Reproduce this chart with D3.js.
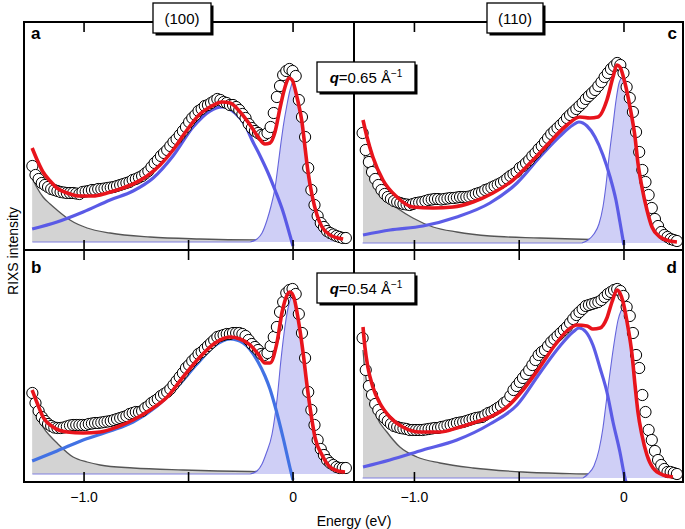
<!DOCTYPE html>
<html>
<head>
<meta charset="utf-8">
<script src="https://cdn.jsdelivr.net/npm/d3@7"></script>
<style>
  html, body { margin: 0; padding: 0; background: #fff; }
  svg { display: block; }
  text { font-family: "Liberation Sans", Arial, Helvetica, sans-serif; }
</style>
</head>
<body>
<script>
// ---------------- DATA ----------------
// Energy loss grid of the measured points (eV)
const energy = [
  -1.245,-1.23,-1.215,-1.2,-1.185,-1.17,-1.155,-1.14,-1.125,-1.11,
  -1.095,-1.08,-1.065,-1.05,-1.035,-1.02,-1.005,-0.99,-0.975,-0.96,
  -0.945,-0.93,-0.915,-0.9,-0.885,-0.87,-0.855,-0.84,-0.825,-0.81,
  -0.795,-0.78,-0.765,-0.75,-0.735,-0.72,-0.705,-0.69,-0.675,-0.66,
  -0.645,-0.63,-0.615,-0.6,-0.585,-0.57,-0.555,-0.54,-0.525,-0.51,
  -0.495,-0.48,-0.465,-0.45,-0.435,-0.42,-0.405,-0.39,-0.375,-0.36,
  -0.345,-0.33,-0.315,-0.3,-0.285,-0.27,-0.255,-0.24,-0.225,-0.21,
  -0.195,-0.18,-0.165,-0.15,-0.135,-0.12,-0.105,-0.09,-0.075,-0.06,
  -0.045,-0.03,-0.015,0,0.015,0.03,0.045,0.06,0.075,0.09,
  0.105,0.12,0.135,0.15,0.165,0.18,0.195,0.21,0.225,0.24,
  0.255
];

// Measured RIXS intensity (arb. units), panels a-d
const intensA = [
  76,67,63,59,57,55,53,52,51,50,
  49.5,49,49,49,48.5,48,50,50.5,51,52,
  52,53,53,53.5,54,54.5,55,56,57,58,
  59,60,62,63,64.5,66,68.5,71,75,79,
  82,86,89,92,96,100,103,107,111,115,
  120,124,127,131,133,136,137,139,141,143,
  142,140,139,137,137,135,132,128,124,118,
  114,111,109,107,107,109,115,129,145,156,
  167,171,173,171,166,142,125,105,74,52,
  37,26,19,15,11,9,7.5,6,5,4,
  4
];
const intensB = [
  81,71,63,57,53,50,48,46.5,46,46,
  46.5,47.5,48.5,49,49,49,49,49,50,50.5,
  51,51,51.5,52,52.5,53,54,55,56,57,
  58,60,61,62,62,63,66,68,71,73,
  75,78,80,82,85,89,93,97,101,106,
  109,113,116,120,122,125,128,131,134,137,
  138,139,140,140,141,141,141,140,138,134,
  130,127,124,120,119,121,128,137,147,162,
  172,181,184,185,180,160,141,116,82,64,
  49,34,25,19,14,11,9,7,6,6,
  6
];
const intensC = [
  110,93,81,71,64,58,53,49,46,44,
  42,41,40,39,38.5,38,39,40,40.5,41,
  42,43,43.5,44,44,43.5,44,44.5,45,45,
  45.5,46,46,46,46.5,47.5,49,50,51,53,
  54,55.5,57,58.5,60,62,64.5,67,69,71,
  75,77,80,83,87,90,94,97,101,105,
  109,112,115,118,121,125,128,131,134,137,
  140,144,147,150,153,157,161,166,170,174,
  177,180,178,170,156,145,131,111,91,73,
  61,48,35,24,17,11,8,6,4,3,
  2
];
const intensD = [
  140,108,92,83,74,68,63,60,57,54,
  52,51,50,49.5,49,48,48,48,48,48,
  48.5,49,49.5,50,50,51,51.5,52.5,53,54,
  55,55.5,56,57,58,59,60,60.5,61,63,
  65,66,68,70,72,75,77,82,88,92,
  96,100,104,108,113,118,123,126,128,132,
  136,139,142,145,148,151,155,159,163,166,
  169,172,173,174,175,176,178,181,184,186,
  188,189,187,182,171,162,145,123,110,83,
  66,48,38,27,18,13,9,6,6,5,
  4
];

// Total fit (red)
const fitEA = [-1.246,-1.222,-1.194,-1.16,-1.127,-1.079,-1.017,-0.955,-0.888,-0.825,-0.763,-0.696,-0.634,-0.572,-0.505,-0.443,-0.395,-0.337,-0.299,-0.251,-0.203,-0.165,-0.132,-0.108,-0.084,-0.06,-0.036,-0.017,-0.002,0.022,0.045,0.06,0.074,0.093,0.117,0.141,0.179,0.242];
const fitIA = [94,82,70,61,54,49,46,46,49,53,58,66,77,92,112,128,135,140,139,130,117,105,98,99,110,134,155,164,162,144,120,94,70,47,27,15,7,3];
const fitEB = [-1.246,-1.222,-1.194,-1.146,-1.079,-1.002,-0.921,-0.84,-0.763,-0.682,-0.6,-0.524,-0.443,-0.371,-0.299,-0.251,-0.203,-0.165,-0.132,-0.108,-0.074,-0.05,-0.026,-0.012,0.007,0.026,0.05,0.069,0.089,0.108,0.141,0.179,0.218,0.251];
const fitIB = [84,71,57,47,42,41,42,47,54,64,77,97,117,131,137,135,129,120,111,111,132,162,179,182,176,156,122,89,59,36,19,7,3,2];
const fitEC = [-1.243,-1.224,-1.196,-1.148,-1.081,-1.005,-0.909,-0.814,-0.718,-0.623,-0.527,-0.432,-0.351,-0.27,-0.208,-0.16,-0.122,-0.079,-0.05,-0.031,-0.017,0.007,0.031,0.055,0.069,0.088,0.112,0.136,0.174,0.222,0.255];
const fitIC = [123,106,86,63,46,36,35,36,41,50,63,83,101,118,126,125,126,143,166,178,176,160,136,106,80,56,33,16,6,2,1];
const fitED = [-1.243,-1.234,-1.22,-1.196,-1.163,-1.115,-1.053,-0.971,-0.876,-0.795,-0.718,-0.637,-0.556,-0.48,-0.399,-0.327,-0.27,-0.222,-0.174,-0.146,-0.112,-0.079,-0.055,-0.031,-0.017,-0.002,0.017,0.041,0.055,0.069,0.088,0.112,0.141,0.189,0.236];
const fitID = [151,131,111,91,75,61,51,46,46,50,55,61,71,88,111,133,147,153,152,149,150,160,176,188,185,176,156,123,93,66,43,23,10,3,1];

// Background tail (grey)
const bgEA = [-1.246,-1.222,-1.194,-1.16,-1.127,-1.065,-0.983,-0.873,-0.682,-0.443,-0.122,0.256];
const bgIA = [64,54,45,38,32,22,14,9,5,3,2,2];
const bgEB = [-1.246,-1.222,-1.194,-1.16,-1.127,-1.05,-0.983,-0.921,-0.763,-0.524,-0.203,0.251];
const bgIB = [72,60,47,38,31,17,12,9,6,4,2.5,2];
const bgEC = [-1.243,-1.224,-1.196,-1.148,-1.081,-1.005,-0.909,-0.795,-0.637,-0.399,-0.079,0.255];
const bgIC = [96,76,60,46,35,25,16,11,7,5,3,2];
const bgED = [-1.243,-1.234,-1.22,-1.196,-1.177,-1.129,-1.067,-0.986,-0.876,-0.718,-0.48,-0.16,0.236];
const bgID = [128,108,90,73,61,46,31,21,15,10,6,4,2];

// Broad excitation (thick blue)
const broadEA = [-1.246,-1.127,-1.002,-0.873,-0.763,-0.667,-0.572,-0.476,-0.395,-0.337,-0.275,-0.227,-0.194,-0.155,-0.117,-0.084,-0.045,-0.017,0.002];
const broadIA = [13,20,30,42,51,64,86,115,131,135,129,117,102,86,69,52,30,10,-4];
const broadEB = [-1.246,-1.127,-1.002,-0.873,-0.763,-0.648,-0.553,-0.457,-0.38,-0.299,-0.237,-0.165,-0.132,-0.108,-0.084,-0.045,-0.012,0.002];
const broadIB = [13,23,34,43,52,68,87,110,127,135,131,112,98,85,68,36,6,-6];
const broadEC = [-1.243,-1.114,-0.957,-0.795,-0.637,-0.508,-0.399,-0.303,-0.241,-0.213,-0.174,-0.136,-0.098,-0.064,-0.036,-0.017,0.002];
const broadIC = [8,13,17,26,40,60,86,107,118,121,117,106,88,66,43,21,-2];
const broadED = [-1.243,-1.115,-0.957,-0.795,-0.637,-0.508,-0.399,-0.303,-0.241,-0.212,-0.179,-0.146,-0.112,-0.079,-0.05,-0.017,0.007,0.012];
const broadID = [11,18,28,38,54,73,105,132,146,150,146,133,110,86,56,26,0,-4];

// Quasi-elastic peak (filled lavender)
const peakEA = [-0.203,-0.17,-0.146,-0.122,-0.103,-0.084,-0.069,-0.055,-0.045,-0.026,-0.012,0.002,0.022,0.045,0.06,0.074,0.093,0.117,0.141,0.179,0.242];
const peakIA = [0,3,9,22,36,54,77,100,115,138,152,160,145,120,94,70,46,25,13,6,2];
const peakEB = [-0.203,-0.17,-0.146,-0.127,-0.098,-0.074,-0.055,-0.036,-0.017,-0.002,0.017,0.036,0.055,0.074,0.093,0.112,0.141,0.179,0.242];
const peakIB = [0,3,10,20,40,75,115,148,170,178,170,144,112,78,52,34,18,7,3];
const peakEC = [-0.198,-0.169,-0.141,-0.117,-0.098,-0.084,-0.069,-0.05,-0.036,-0.021,-0.007,0.007,0.031,0.055,0.069,0.088,0.112,0.136,0.174,0.255];
const peakIC = [0,3,9,19,36,57,86,118,142,160,165,159,135,105,80,55,33,16,6,2];
const peakED = [-0.193,-0.169,-0.141,-0.117,-0.098,-0.084,-0.069,-0.055,-0.041,-0.026,-0.012,0.002,0.017,0.041,0.055,0.069,0.088,0.112,0.141,0.189,0.236];
const peakID = [0,4,12,28,50,73,98,120,140,158,167,171,156,123,93,66,43,23,10,3,1];

// Axes
const xDomainLeft = [-1.285, 0.294];
const xDomainRight = [-1.286, 0.284];
const tickValues = [-1.0, -0.5, 0];
const tickLabels = ["\u22121.0", "", "0"];
const yDomainA = [-8, 220];
const yDomainB = [-8, 224];
const yDomainC = [-7, 221];
const yDomainD = [-4, 228];

const panelLabels = ["a", "b", "c", "d"];
const directionLabels = ["(100)", "(110)"];
const qLabels = ["0.65", "0.54"];
const yTitle = "RIXS intensity";
const xTitle = "Energy (eV)";

// ---------------- LAYOUT ----------------
const W = 685, H = 529;
const L = 24, M = 354, R = 683, T = 22, MID = 250, B = 482;

const svg = d3.select("body").append("svg").attr("width", W).attr("height", H);

const panels = [
  {lab: panelLabels[0], col: 0, row: 0, yDom: yDomainA, data: intensA, fitE: fitEA, fitI: fitIA, bgE: bgEA, bgI: bgIA, broadE: broadEA, broadI: broadIA, peakE: peakEA, peakI: peakIA, broadColor: "#5a5ae6"},
  {lab: panelLabels[1], col: 0, row: 1, yDom: yDomainB, data: intensB, fitE: fitEB, fitI: fitIB, bgE: bgEB, bgI: bgIB, broadE: broadEB, broadI: broadIB, peakE: peakEB, peakI: peakIB, broadColor: "#4272e4"},
  {lab: panelLabels[2], col: 1, row: 0, yDom: yDomainC, data: intensC, fitE: fitEC, fitI: fitIC, bgE: bgEC, bgI: bgIC, broadE: broadEC, broadI: broadIC, peakE: peakEC, peakI: peakIC, broadColor: "#5c5ce6"},
  {lab: panelLabels[3], col: 1, row: 1, yDom: yDomainD, data: intensD, fitE: fitED, fitI: fitID, bgE: bgED, bgI: bgID, broadE: broadED, broadI: broadID, peakE: peakED, peakI: peakID, broadColor: "#5c5ce6"}
];

panels.forEach((p, idx) => {
  const x0 = p.col ? M : L, x1 = p.col ? R : M;
  const y0 = p.row ? MID : T, y1 = p.row ? B : MID;
  const x = d3.scaleLinear().domain(p.col ? xDomainRight : xDomainLeft).range([x0, x1]);
  const y = d3.scaleLinear().domain(p.yDom).range([y1, y0]);

  const clipId = "clip" + idx;
  svg.append("clipPath").attr("id", clipId).append("rect")
    .attr("x", x0).attr("y", y0).attr("width", x1 - x0).attr("height", y1 - y0);
  const g = svg.append("g").attr("clip-path", `url(#${clipId})`);

  const line = d3.line().x(d => x(d[0])).y(d => y(d[1])).curve(d3.curveMonotoneX);
  const area = d3.area().x(d => x(d[0])).y0(y(0)).y1(d => y(d[1])).curve(d3.curveMonotoneX);

  const bg = d3.zip(p.bgE, p.bgI);
  const pk = d3.zip(p.peakE, p.peakI);
  const br = d3.zip(p.broadE, p.broadI);
  const fit = d3.zip(p.fitE, p.fitI);
  const pts = d3.zip(energy, p.data);

  // grey background tail
  g.append("path").datum(bg).attr("d", area).attr("fill", "#d3d3d3").attr("stroke", "none");
  g.append("path").datum(bg).attr("d", line).attr("fill", "none").attr("stroke", "#555").attr("stroke-width", 1.3);

  // quasi-elastic peak
  g.append("path").datum(pk).attr("d", area).attr("fill", "#cfcff6").attr("stroke", "none");
  g.append("path").datum(pk).attr("d", line).attr("fill", "none").attr("stroke", "#6464dc").attr("stroke-width", 1.1);
  // thin zero line
  g.append("path").datum([[energy[0], 0], [p.peakE[0], 0]]).attr("d", line)
    .attr("fill", "none").attr("stroke", "#8080e0").attr("stroke-width", 1.2);

  // broad excitation
  g.append("path").datum(br).attr("d", line).attr("fill", "none")
    .attr("stroke", p.broadColor).attr("stroke-width", 3.2);

  // data points
  g.selectAll("circle.pt").data(pts).join("circle").attr("class", "pt")
    .attr("cx", d => x(d[0])).attr("cy", d => y(d[1])).attr("r", 5.6)
    .attr("fill", "#fff").attr("stroke", "#000").attr("stroke-width", 1);

  // total fit
  g.append("path").datum(fit).attr("d", line).attr("fill", "none")
    .attr("stroke", "#e8141c").attr("stroke-width", 3.6).attr("stroke-linejoin", "round");

  // inside ticks on top & bottom
  const topAxis = d3.axisTop(x).tickValues(tickValues).tickSize(-10).tickFormat("");
  const botAxis = d3.axisBottom(x).tickValues(tickValues).tickSize(-10).tickPadding(10)
    .tickFormat((d, i) => p.row ? tickLabels[i] : "");
  const ga = svg.append("g").attr("transform", `translate(0,${y0})`).call(topAxis);
  const gb = svg.append("g").attr("transform", `translate(0,${y1})`).call(botAxis);
  [ga, gb].forEach(a => {
    a.select(".domain").remove();
    a.selectAll(".tick line").attr("stroke", "#000").attr("stroke-width", 1.6);
    a.selectAll(".tick text").attr("fill", "#000").style("font-size", "14px")
      .style("font-family", '"Liberation Sans", Arial, sans-serif');
  });

  // panel letter
  svg.append("text")
    .attr("x", p.col ? x1 - 6 : x0 + 7)
    .attr("y", p.row ? y0 + 23 : y0 + 17)
    .attr("text-anchor", p.col ? "end" : "start")
    .style("font-size", "17px").style("font-weight", "bold")
    .text(p.lab);
});

// frame
svg.append("rect").attr("x", L).attr("y", T).attr("width", R - L).attr("height", B - T)
  .attr("fill", "none").attr("stroke", "#000").attr("stroke-width", 2);
svg.append("line").attr("x1", M).attr("x2", M).attr("y1", T).attr("y2", B)
  .attr("stroke", "#000").attr("stroke-width", 2);
svg.append("line").attr("x1", L).attr("x2", R).attr("y1", MID).attr("y2", MID)
  .attr("stroke", "#000").attr("stroke-width", 2);

// label boxes with drop shadow
function shadowBox(bx, by, bw, bh) {
  svg.append("rect").attr("x", bx + 2.5).attr("y", by + 2.5).attr("width", bw).attr("height", bh).attr("fill", "#000");
  svg.append("rect").attr("x", bx).attr("y", by).attr("width", bw).attr("height", bh)
    .attr("fill", "#fff").attr("stroke", "#000").attr("stroke-width", 1.3);
}
shadowBox(153, 3, 58, 30);
svg.append("text").attr("x", 182).attr("y", 24).attr("text-anchor", "middle").style("font-size", "15px").text(directionLabels[0]);
shadowBox(487, 3, 56, 30);
svg.append("text").attr("x", 515).attr("y", 24).attr("text-anchor", "middle").style("font-size", "15px").text(directionLabels[1]);

function qBox(by, val) {
  shadowBox(317, by, 98, 30);
  const t = svg.append("text").attr("x", 366).attr("y", by + 21).attr("text-anchor", "middle").style("font-size", "15px");
  t.append("tspan").style("font-weight", "bold").style("font-style", "italic").text("q");
  t.append("tspan").text("=" + val + " \u00C5");
  t.append("tspan").attr("dy", -6).style("font-size", "10px").text("\u22121");
}
qBox(62, qLabels[0]);
qBox(273, qLabels[1]);

// axis titles
svg.append("text").attr("transform", "translate(18,251) rotate(-90)").attr("text-anchor", "middle")
  .style("font-size", "14px").text(yTitle);
svg.append("text").attr("x", 354).attr("y", 526).attr("text-anchor", "middle")
  .style("font-size", "14px").text(xTitle);
</script>
</body>
</html>
